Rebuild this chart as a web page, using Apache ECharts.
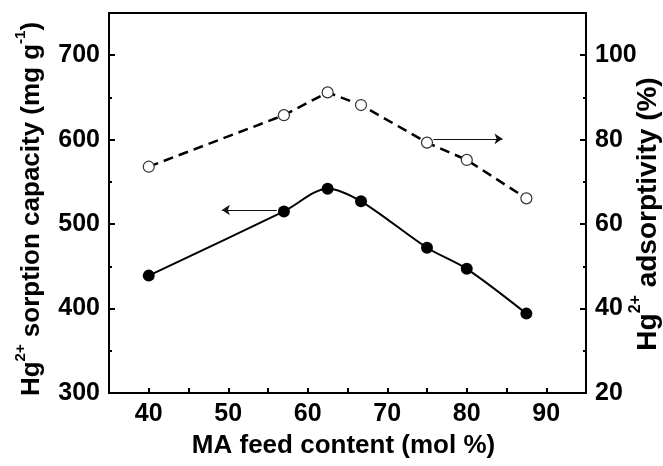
<!DOCTYPE html>
<html>
<head>
<meta charset="utf-8">
<script src="https://cdn.jsdelivr.net/npm/echarts@6/dist/echarts.min.js"></script>
<style>
  html, body { margin: 0; padding: 0; background: #fff; }
  #chart { width: 663px; height: 466px; }
</style>
</head>
<body>
<div id="chart"></div>
<script>
// MA feed content (mol %)
var maFeed = [40, 57, 62.5, 66.7, 75, 80, 87.5];
// Hg2+ sorption capacity (mg/g), filled circles, left axis
var sorptionCapacity = [439, 515, 542, 527, 472, 447, 394];
// Hg2+ adsorptivity (%), open circles, right axis
var adsorptivity = [73.6, 85.8, 91.2, 88.2, 79.3, 75.2, 66.1];

// arrows pointing to the axis each curve belongs to
var leftArrow = [[56.1, 516.7], [49.2, 516.7]];
var rightArrow = [[75.8, 80.2], [84.5, 80.2]];

var FONT = '"Liberation Sans", Arial, sans-serif';

var chart = echarts.init(document.getElementById('chart'));

function pairs(xs, ys) {
    return xs.map(function (x, i) { return [x, ys[i]]; });
}

function nameRich(size) {
    return {
        b: { fontFamily: FONT, fontWeight: 'bold', fontSize: size, color: '#000', lineHeight: size + 6, verticalAlign: 'bottom' },
        sup: { fontFamily: FONT, fontWeight: 'bold', fontSize: Math.round(size * 0.58), color: '#000', lineHeight: size + 6, verticalAlign: 'top' }
    };
}

var tickLabel = { color: '#000', fontFamily: FONT, fontWeight: 'bold', fontSize: 25 };

var option = {
    animation: false,
    backgroundColor: '#fff',
    grid: {
        left: 109, right: 77, top: 13, bottom: 73,
        outerBoundsMode: 'none',
        show: true, borderColor: '#000', borderWidth: 2, backgroundColor: 'transparent'
    },
    xAxis: {
        type: 'value',
        min: 35, max: 95, interval: 5,
        name: 'MA feed content (mol %)',
        nameLocation: 'middle',
        nameGap: 40,
        nameMoveOverlap: false,
        nameTextStyle: { color: '#000', fontFamily: FONT, fontWeight: 'bold', fontSize: 26, padding: [0, 8, 0, 0] },
        axisLine: { lineStyle: { color: '#000', width: 2 } },
        axisTick: { inside: true, length: 5, lineStyle: { color: '#000', width: 2 } },
        axisLabel: Object.assign({
            margin: 9,
            formatter: function (v) { return v % 10 === 0 ? String(v) : ''; }
        }, tickLabel),
        splitLine: { show: false }
    },
    yAxis: [
        {
            type: 'value',
            min: 300, max: 750, interval: 100,
            name: '{b|Hg}{sup|2+}{b| sorption capacity (mg g}{sup|-1}{b|)}',
            nameLocation: 'middle',
            nameRotate: 90,
            nameGap: 64,
            nameMoveOverlap: false,
            nameTextStyle: { rich: nameRich(26), padding: [0, 12, 0, 0] },
            axisLine: { show: true, lineStyle: { color: '#000', width: 2 } },
            axisTick: { show: true, inside: true, length: 6, lineStyle: { color: '#000', width: 2 } },
            minorTick: { show: true, splitNumber: 2, length: 3, lineStyle: { color: '#000', width: 2 } },
            axisLabel: Object.assign({ margin: 9, showMaxLabel: false }, tickLabel),
            splitLine: { show: false }
        },
        {
            type: 'value',
            min: 20, max: 110, interval: 20,
            position: 'right',
            name: '{b|Hg}{sup|2+}{b| adsorptivity (%)}',
            nameLocation: 'middle',
            nameRotate: 90,
            nameGap: 42,
            nameMoveOverlap: false,
            nameTextStyle: { rich: nameRich(28), padding: [0, 22, 0, 0] },
            axisLine: { show: true, lineStyle: { color: '#000', width: 2 } },
            axisTick: { show: true, inside: true, length: 6, lineStyle: { color: '#000', width: 2 } },
            minorTick: { show: true, splitNumber: 2, length: 3, lineStyle: { color: '#000', width: 2 } },
            axisLabel: Object.assign({ margin: 9, showMaxLabel: false }, tickLabel),
            splitLine: { show: false }
        }
    ],
    series: [
        {
            name: 'capacity',
            type: 'line',
            yAxisIndex: 0,
            data: pairs(maFeed, sorptionCapacity),
            smooth: 0.3,
            symbol: 'circle',
            symbolSize: 12,
            itemStyle: { color: '#000' },
            lineStyle: { color: '#000', width: 2 },
            markLine: {
                silent: true,
                symbol: ['none', 'arrow'],
                symbolSize: 8,
                label: { show: false },
                lineStyle: { color: '#111', width: 1, type: 'solid' },
                data: [[{ coord: leftArrow[0] }, { coord: leftArrow[1] }]]
            }
        },
        {
            name: 'adsorptivity',
            type: 'line',
            yAxisIndex: 1,
            data: pairs(maFeed, adsorptivity),
            symbol: 'circle',
            symbolSize: 11,
            itemStyle: { color: '#fff', borderColor: '#333', borderWidth: 1.2 },
            lineStyle: { color: '#000', width: 2.5, type: [10, 6] },
            markLine: {
                silent: true,
                symbol: ['none', 'arrow'],
                symbolSize: 8,
                label: { show: false },
                lineStyle: { color: '#111', width: 1, type: 'solid' },
                data: [[{ coord: rightArrow[0] }, { coord: rightArrow[1] }]]
            }
        }
    ]
};

chart.setOption(option);
</script>
</body>
</html>
